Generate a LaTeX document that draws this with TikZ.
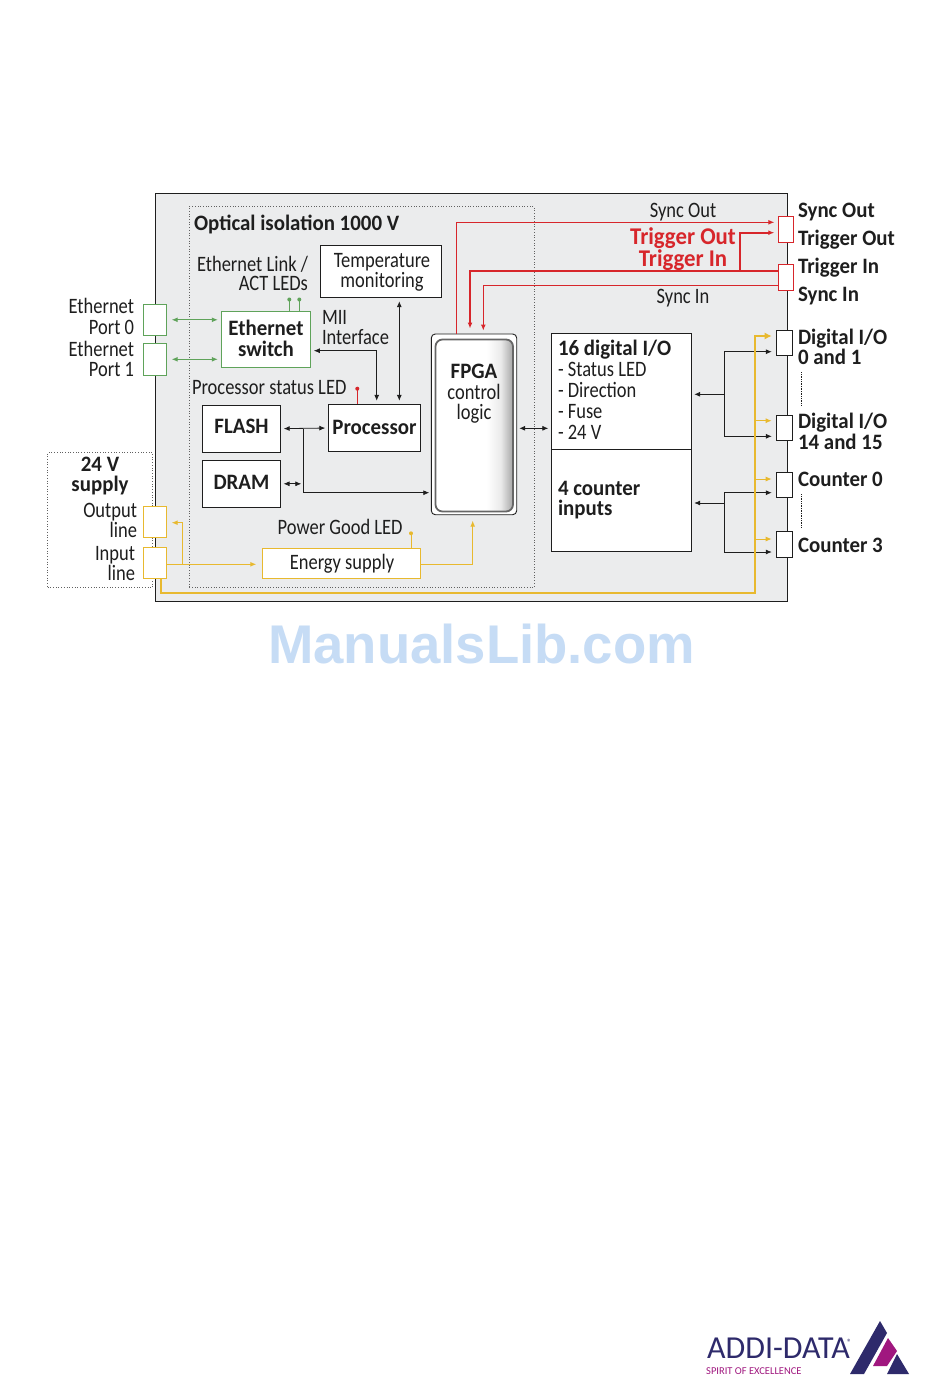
\documentclass[tikz,border=0pt]{standalone}
\usepackage{fontspec}
\setmainfont{Carlito}
\newfontfamily\rgf[FakeStretch=0.84]{Carlito}
\newfontfamily\bdf[FakeStretch=0.95]{Carlito}
\newfontfamily\wmfont{Liberation Sans}
\usetikzlibrary{arrows.meta,calc,shadings}
\definecolor{panel}{HTML}{EBECED}
\definecolor{ink}{HTML}{1E1E1E}
\definecolor{grn}{HTML}{5FA35A}
\definecolor{yel}{HTML}{E8B92F}
\definecolor{rd}{HTML}{D7262B}
\definecolor{navy}{HTML}{2E2A6B}
\definecolor{mag}{HTML}{A0177F}
\definecolor{wm}{HTML}{C6DCF5}
\pgfdeclarehorizontalshading{fpgash}{100bp}{color(0bp)=(white); color(58bp)=(white); color(67bp)=(white!92!black); color(75bp)=(black!35); color(100bp)=(black!35)}
\tikzset{
  x=1pt,y=-1pt,
  txt/.style={inner sep=0pt,outer sep=0pt,font=\rgf\fontsize{22}{22}\selectfont,text=ink},
  bld/.style={txt,font=\bdf\bfseries\fontsize{22}{22}\selectfont},
  lbl/.style={txt,anchor=base west},
  rbl/.style={txt,anchor=base east},
  cbl/.style={txt,anchor=base},
  blbl/.style={bld,anchor=base west},
  cblb/.style={bld,anchor=base},
  boxed/.style={draw=ink,fill=white,line width=.9pt,inner sep=0pt,outer sep=0pt,anchor=north west},
  gbox/.style={boxed,draw=grn},
  ybox/.style={boxed,draw=yel},
  rbox/.style={boxed,draw=rd},
  dots/.style={draw=ink!70,line width=.7pt,dotted,inner sep=0pt,anchor=north west},
  tip/.style={-{Latex[length=6pt,width=5pt]}},
  dtip/.style={{Latex[length=6pt,width=5pt]}-{Latex[length=6pt,width=5pt]}},
  bk/.style={draw=ink,line width=.8pt},
  gn/.style={draw=grn,line width=1pt},
  ye/.style={draw=yel,line width=1pt},
  yet/.style={draw=yel,line width=2pt},
  re/.style={draw=rd,line width=1pt},
  ret/.style={draw=rd,line width=2.2pt},
}
\begin{document}
\begin{tikzpicture}
\useasboundingbox (0,0) rectangle (950,1397);
\fill[white] (0,0) rectangle (950,1397);
% panel
\node[boxed,fill=panel,minimum width=632pt,minimum height=407.5pt] (main) at (155.5,193.5) {};
\node[dots,minimum width=344.5pt,minimum height=381pt] (iso) at (189,206) {};
\node[dots,minimum width=105pt,minimum height=134.7pt] (sup) at (47.3,452.3) {};
% boxes
\node[boxed,minimum width=121.7pt,minimum height=52.4pt] (temp) at (320,245.3) {};
\node[gbox,minimum width=89pt,minimum height=56pt] (sw) at (221.3,311.3) {};
\node[gbox,minimum width=23.7pt,minimum height=31pt] (p0) at (143,304.3) {};
\node[gbox,minimum width=23.7pt,minimum height=32pt] (p1) at (143,343.3) {};
\node[boxed,minimum width=92.4pt,minimum height=47.4pt] (proc) at (328.3,404.3) {};
\node[boxed,minimum width=78.4pt,minimum height=47.3pt] (flash) at (202.3,405) {};
\node[boxed,minimum width=78.4pt,minimum height=47pt] (dram) at (202.3,460.3) {};
\node[ybox,minimum width=158.4pt,minimum height=30pt] (en) at (262.3,548.7) {};
\node[ybox,minimum width=23.7pt,minimum height=31pt] (out) at (143,506.3) {};
\node[ybox,minimum width=23.7pt,minimum height=31.7pt] (in) at (143,547) {};
\node[boxed,minimum width=140.4pt,minimum height=116pt] (dig) at (551.3,333.3) {};
\node[boxed,minimum width=140.4pt,minimum height=102pt] (cnt) at (551.3,449.3) {};
\node[boxed,minimum width=16.4pt,minimum height=25.3pt] (d0) at (776.3,330) {};
\node[boxed,minimum width=16.4pt,minimum height=25pt] (d14) at (776.3,415.3) {};
\node[boxed,minimum width=16.4pt,minimum height=25pt] (c0) at (776.3,472.3) {};
\node[boxed,minimum width=16.4pt,minimum height=26pt] (c3) at (776.3,531.3) {};
\node[rbox,minimum width=15pt,minimum height=26.3pt] (so) at (778.3,216) {};
\node[rbox,minimum width=15pt,minimum height=26pt] (ti) at (778.3,264.3) {};
% FPGA
\node[boxed,rounded corners=4pt,minimum width=85.4pt,minimum height=180.7pt] (fp) at (431.3,334) {};
\shade[rounded corners=7pt,shading=fpgash,shading angle=0,draw=black!60,line width=1.8pt] (435.5,339.5) rectangle (513,511.5);
% LED stubs
\coordinate (lg1) at (289.3,299.5);
\coordinate (lg2) at (299.3,299.5);
\draw[gn] (lg1) -- (lg1 |- sw.north);
\draw[gn] (lg2) -- (lg2 |- sw.north);
\fill[grn] (lg1) circle (2pt) (lg2) circle (2pt);
\coordinate (lr) at (357.3,388.7);
\draw[re] (lr) -- (lr |- proc.north);
\fill[rd] (lr) circle (2pt);
\coordinate (ly) at (411,533.3);
\draw[ye] (ly) -- (ly |- en.north);
\fill[yel] (ly) circle (2pt);
% Ethernet
\draw[gn,dtip,shorten <=5pt,shorten >=3.5pt] (p0.east) -- (sw.west |- p0.east);
\draw[gn,dtip,shorten <=5pt,shorten >=3.5pt] (p1.east) -- (sw.west |- p1.east);
% black
\coordinate (mii) at (376.7,350.7);
\draw[bk,dtip,shorten <=3.5pt,shorten >=3.5pt] (sw.east |- mii) -- (mii) -- (mii |- proc.north);
\draw[bk,dtip,shorten <=3.5pt,shorten >=3.5pt] (399.3,297.7) coordinate (tm) -- (tm |- proc.north);
\coordinate (fy) at (303.3,428.7);
\draw[bk,dtip,shorten <=3pt,shorten >=3pt] (flash.east) -- (proc.west);
\coordinate (fb) at ($(fy |- fp.south)+(0,-22)$);
\draw[bk,tip,shorten >=2pt] (fy) -- (fb) -- (fb -| fp.west);
\draw[bk,dtip,shorten <=2.8pt,shorten >=2pt] (dram.east) -- (fy |- dram.east);
\coordinate (fd) at (519,428.3);
\draw[bk,dtip,shorten <=2.5pt,shorten >=3pt] (fp.east |- fd) -- (dig.west |- fd);
% digital fan-out
\coordinate (dh) at (724.3,394.3);
\draw[bk,tip,shorten >=2.5pt] (dh) -- (dig.east |- dh);
\coordinate (d0y) at (724.3,351.7);
\coordinate (d14y) at (724.3,436.3);
\draw[bk,tip,shorten >=4.5pt] (d14y) -- (d0y) -- (d0.west |- d0y);
\draw[bk,tip,shorten >=4.5pt] (d14y) -- (d14.west |- d14y);
\coordinate (ch) at (724.3,503);
\draw[bk,tip,shorten >=2.5pt] (ch) -- (cnt.east |- ch);
\coordinate (c0y) at (724.3,492.7);
\coordinate (c3y) at (724.3,552);
\draw[bk,tip,shorten >=4.5pt] (c3y) -- (c0y) -- (c0.west |- c0y);
\draw[bk,tip,shorten >=4.5pt] (c3y) -- (c3.west |- c3y);
% vertical dashes
\draw[draw=ink,line width=.7pt,densely dotted] (801.7,372.3) coordinate (v1) -- (801.7,405) coordinate (v2);
\draw[draw=ink,line width=.7pt,densely dotted] (801.7,494.3) coordinate (v3) -- (801.7,527.3) coordinate (v4);
% yellow
\coordinate (yb) at (182.7,564.3);
\draw[ye,tip,shorten >=6pt] (in.east |- yb) -- (en.west |- yb);
\coordinate (yu) at (182.7,522.7);
\draw[ye,tip,shorten >=5pt] (yb) -- (yu) -- (out.east |- yu);
\coordinate (ye1) at (472.7,564.3);
\draw[ye,tip,shorten >=6pt] (en.east |- ye1) -- (ye1) -- (ye1 |- fp.south);
\coordinate (ybl) at (160.7,593);
\coordinate (ybr) at (755.3,593);
\coordinate (ya0) at (755.3,336);
\draw[yet,-{Latex[length=7pt,width=7pt]},shorten >=4.6pt] (ybl |- in.south) -- (ybl) -- (ybr) -- (ya0) -- (d0.west |- ya0);
\coordinate (ya1) at (755.3,420.7);
\coordinate (ya2) at (755.3,479);
\coordinate (ya3) at (755.3,539);
\draw[ye,tip,shorten >=4.6pt] (ya1) -- (d14.west |- ya1);
\draw[ye,tip,shorten >=4.6pt] (ya2) -- (c0.west |- ya2);
\draw[ye,tip,shorten >=4.6pt] (ya3) -- (c3.west |- ya3);
% red
\coordinate (r1) at (456.7,222.3);
\draw[re,tip,shorten >=4pt] (r1 |- fp.north) -- (r1) -- (so.west |- r1);
\coordinate (r2) at (740,232.7);
\draw[ret,tip,shorten >=4pt,line width=1.6pt] (740,271) -- (r2) -- (so.west |- r2);
\coordinate (r3) at (470,271);
\draw[ret,tip,shorten >=5.5pt] (ti.west |- r3) -- (r3) -- (r3 |- fp.north);
\coordinate (r4) at (483.3,285.3);
\draw[re,tip,shorten >=3.5pt] (ti.west |- r4) -- (r4) -- (r4 |- fp.north);
% Labels
\node[blbl] (t1) at (194,230.7) {Optical isolation 1000 V};
\node[rbl] (t2) at (308,271) {Ethernet Link /};
\node[rbl] (t3) at (308,290) {ACT LEDs};
\node[cbl] (t4) at (382,267) {Temperature};
\node[cbl] (t5) at (382,287.5) {monitoring};
\node[cblb] (t6) at (266,335) {Ethernet};
\node[cblb] (t7) at (266,356) {switch};
\node[rbl] (t8) at (134,313) {Ethernet};
\node[rbl] (t9) at (134,334) {Port 0};
\node[rbl] (t10) at (134,356) {Ethernet};
\node[rbl] (t11) at (134,376.7) {Port 1};
\node[lbl] (t12) at (322,324.3) {MII};
\node[lbl] (t13) at (322,344) {Interface};
\node[lbl] (t14) at (192,394) {Processor status LED};
\node[cblb] (t15) at (241.5,433) {FLASH};
\node[cblb] (t16) at (374.5,434.7) {Processor};
\node[cblb] (t17) at (241.5,489.3) {DRAM};
\node[cblb] (t18) at (474,378) {FPGA};
\node[cbl] (t19) at (474,399) {control};
\node[cbl] (t20) at (474,419) {logic};
\node[lbl] (t21) at (277.7,534) {Power Good LED};
\node[cbl] (t22) at (342,569) {Energy supply};
\node[cblb] (t23) at (100,471) {24 V};
\node[cblb] (t24) at (100,491.7) {supply};
\node[rbl] (t25) at (137,517.7) {Output};
\node[rbl] (t26) at (137,537.7) {line};
\node[rbl] (t27) at (135,560) {Input};
\node[rbl] (t28) at (135,580.7) {line};
\node[cbl] (t29) at (683,217.3) {Sync Out};
\node[cblb,text=rd,font=\bdf\bfseries\fontsize{24}{24}\selectfont] (t30) at (683,244.3) {Trigger Out};
\node[cblb,text=rd,font=\bdf\bfseries\fontsize{24}{24}\selectfont] (t31) at (683,266.7) {Trigger In};
\node[cbl] (t32) at (683,303.3) {Sync In};
\node[blbl] (t33) at (798,217.3) {Sync Out};
\node[blbl] (t34) at (798,245) {Trigger Out};
\node[blbl] (t35) at (798,273.3) {Trigger In};
\node[blbl] (t36) at (798,301.7) {Sync In};
\node[blbl] (t37) at (798,344) {Digital I/O};
\node[blbl] (t38) at (798,364.7) {0 and 1};
\node[blbl] (t39) at (798,428.7) {Digital I/O};
\node[blbl] (t40) at (798,449.7) {14 and 15};
\node[blbl] (t41) at (798,486) {Counter 0};
\node[blbl] (t42) at (798,552) {Counter 3};
\node[blbl] (t43) at (558,355.3) {16 digital I/O};
\node[lbl] (t44) at (558,376.7) {- Status LED};
\node[lbl] (t45) at (558,397.3) {- Direction};
\node[lbl] (t46) at (558,418) {- Fuse};
\node[lbl] (t47) at (558,439) {- 24 V};
\node[blbl] (t48) at (558,495) {4 counter};
\node[blbl] (t49) at (558,515.7) {inputs};
% watermark
\node[inner sep=0pt,anchor=base,text=wm,font=\wmfont\bfseries\fontsize{54.5}{54.5}\selectfont] (wm) at (481.5,663) {ManualsLib.com};
% logo
\node[inner sep=0pt,anchor=base west,text=navy,font=\fontsize{32}{32}\selectfont] (lg) at (707,1358) {ADDI-DATA};
\node[inner sep=0pt,anchor=base west,text=navy,font=\fontsize{9}{9}\selectfont] (lgr) at (847,1345) {®};
\node[inner sep=0pt,anchor=base west,text=mag,font=\fontsize{10.5}{10.5}\selectfont] (lgs) at (706,1374) {SPIRIT OF EXCELLENCE};
\fill[navy] (880,1321) -- (887,1333) -- (864,1374) -- (850,1374) -- cycle;
\fill[mag] (888,1338) -- (897,1351) -- (887,1366) -- (873,1366) -- cycle;
\fill[navy] (897,1354) -- (909,1374) -- (887,1374) -- cycle;
\end{tikzpicture}
\end{document}
